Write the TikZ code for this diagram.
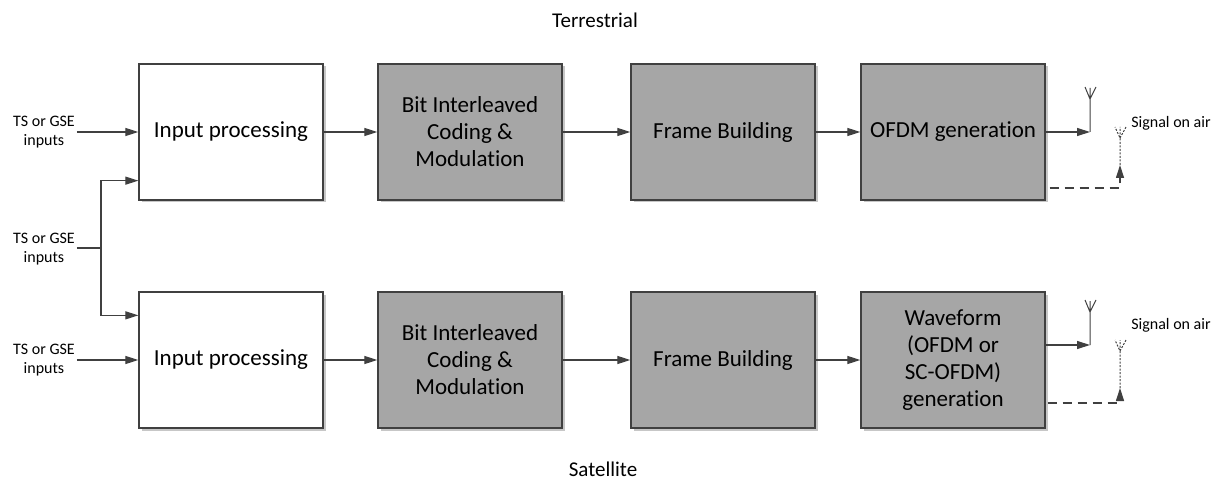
\documentclass[tikz,border=0pt]{standalone}
\usepackage{fontspec}
\setmainfont{Carlito}[Ligatures=CommonOff]
\usetikzlibrary{shadows,arrows.meta}

\tikzset{
  blockw/.style={draw=black!75,line width=1.3pt,fill=white,minimum width=184pt,minimum height=136pt,
    inner sep=2pt,align=center,font=\fontsize{23}{27}\selectfont,
    drop shadow={shadow xshift=2.5pt,shadow yshift=-2.5pt,fill=black!22,opacity=1}},
  blockg/.style={blockw,fill=black!35},
  flow/.style={draw=black!75,line width=1.2pt,-{Triangle[length=13pt,width=8pt]}},
  dflow/.style={flow,dash pattern=on 9pt off 6pt},
  aerial/.style={draw=black!75,line width=1pt},
  daerial/.style={aerial,dash pattern=on 2pt off 1.5pt},
  lbl/.style={font=\fontsize{16}{19}\selectfont,align=center,inner sep=2pt},
  title/.style={font=\fontsize{21}{25}\selectfont}
}

\begin{document}
\begin{tikzpicture}[x=1pt,y=-1pt]
\useasboundingbox (0,0) rectangle (1221,481);
\node[title] (terr) at (595,20) {Terrestrial};
\node[title] (sat) at (603,469) {Satellite};
% terrestrial row
\node[blockw] (in1) at (231,132) {Input processing};
\node[blockg] (bicm1) at (470,132) {Bit Interleaved\\Coding \&\\Modulation};
\node[blockg] (fb1) at (723,132) {Frame Building};
\node[blockg] (ofdm1) at (953,132) {OFDM generation};
% satellite row
\node[blockw] (in2) at (231,360) {Input processing};
\node[blockg] (bicm2) at (470,360) {Bit Interleaved\\Coding \&\\Modulation};
\node[blockg] (fb2) at (723,360) {Frame Building};
\node[blockg] (wf2) at (953,360) {Waveform\\(OFDM or\\SC-OFDM)\\generation};
% inputs
\node[lbl] (ts1) at (44,132) {TS or GSE\\inputs};
\node[lbl] (ts0) at (44,249) {TS or GSE\\inputs};
\node[lbl] (ts2) at (44,360) {TS or GSE\\inputs};
\coordinate (split) at (101,248);
\draw[flow] (ts1) -- (in1);
\draw[flow] (ts2) -- (in2);
\draw[aerial,line width=1.2pt] (ts0.east |- split) -- (split);
\draw[flow] (split) |- ([yshift=20pt]in1.south west);
\draw[flow] (split) |- ([yshift=-24pt]in2.north west);
\foreach \a/\b in {in1/bicm1,bicm1/fb1,fb1/ofdm1,in2/bicm2,bicm2/fb2,fb2/wf2}
  \draw[flow] (\a) -- (\b);
% terrestrial output
\coordinate (ant1) at (1090,132);
\coordinate (dant1) at (1120,188);
\draw[flow] (ofdm1.east) -- (ant1);
\draw[aerial] (ant1) -- (1090,99) -- (1085,87) (1090,99) -- (1096,87) (1090,99) -- (1090,88);
\draw[dflow] (ofdm1.east) |- (dant1) -- (1120,165);
\draw[daerial] (1120,165) -- (1120,138) -- (1115,127) (1120,138) -- (1126,127) (1120,138) -- (1120,127);
\node[lbl] (air1) at (1171,123) {Signal on air};
% satellite output
\coordinate (ant2) at (1090,345);
\coordinate (dant2) at (1120,403);
\draw[flow] ([yshift=15pt]wf2.east) -- (ant2);
\draw[aerial] (ant2) -- (1090,312) -- (1085,300) (1090,312) -- (1096,300) (1090,312) -- (1090,301);
\draw[dflow] ([yshift=15pt]wf2.east) |- (dant2) -- (1120,388);
\draw[daerial] (1120,388) -- (1120,351) -- (1115,340) (1120,351) -- (1126,340) (1120,351) -- (1120,340);
\node[lbl] (air2) at (1171,325) {Signal on air};
\end{tikzpicture}
\end{document}
